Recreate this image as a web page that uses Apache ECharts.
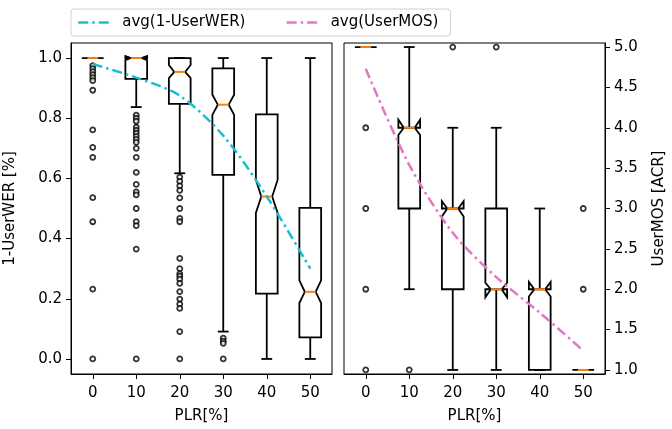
<!DOCTYPE html>
<html>
<head>
<meta charset="utf-8">
<script src="https://cdn.jsdelivr.net/npm/echarts@6/dist/echarts.min.js"></script>
<style>
  html, body { margin: 0; padding: 0; background: #fff; }
  #chart { width: 672px; height: 429px; }
</style>
</head>
<body>
<div id="chart"></div>
<script>
// Packet loss rate levels (x categories)
const plrLevels = ['0', '10', '20', '30', '40', '50'];

// 1-UserWER box statistics per PLR level
const werWhiskerLow  = [1.0, 0.837, 0.617, 0.091, 0.0,   0.0];
const werQ1          = [1.0, 0.931, 0.848, 0.612, 0.217, 0.072];
const werMedian      = [1.0, 1.0,   0.954, 0.845, 0.540, 0.223];
const werQ3          = [1.0, 1.0,   1.0,   0.966, 0.8125, 0.502];
const werWhiskerHigh = [1.0, 1.0,   1.0,   1.0,   1.0,   1.0];
const werNotchLow    = [1.0, 0.993, 0.933, 0.811, 0.485, 0.186];
const werNotchHigh   = [1.0, 1.007, 0.977, 0.878, 0.595, 0.261];
const werAverage     = [0.98, 0.935, 0.875, 0.742, 0.540, 0.300];

// 1-UserWER outliers, one list per PLR level
const werOutliers = [
  [0.975, 0.965, 0.955, 0.945, 0.935, 0.925, 0.893, 0.761, 0.703, 0.67, 0.536, 0.456, 0.232, 0.0],
  [0.81, 0.80, 0.79, 0.77, 0.76, 0.75, 0.74, 0.73, 0.72, 0.70, 0.67, 0.62, 0.58, 0.555, 0.545, 0.50, 0.456, 0.443, 0.365, 0.0],
  [0.604, 0.59, 0.575, 0.56, 0.535, 0.50, 0.467, 0.456, 0.334, 0.30, 0.283, 0.275, 0.265, 0.251, 0.224, 0.199, 0.182, 0.168, 0.091, 0.0],
  [0.069, 0.059, 0.052, 0.0],
  [],
  []
];

// UserMOS box statistics per PLR level
const mosWhiskerLow  = [5, 2, 1, 1, 1, 1];
const mosQ1          = [5, 3, 2, 2, 1, 1];
const mosMedian      = [5, 4, 3, 2, 2, 1];
const mosQ3          = [5, 4, 3, 3, 2, 1];
const mosWhiskerHigh = [5, 5, 4, 4, 3, 1];
const mosNotchLow    = [5, 3.91, 2.90, 1.90, 1.91, 1];
const mosNotchHigh   = [5, 4.10, 3.09, 2.08, 2.09, 1];
const mosAverage     = [4.73, 3.54, 2.70, 2.15, 1.71, 1.24];

// UserMOS outliers, one list per PLR level
const mosOutliers = [
  [4, 3, 2, 1],
  [1],
  [5],
  [5],
  [],
  [3, 2]
];

// Tick labels
const werTicks = [0.0, 0.2, 0.4, 0.6, 0.8, 1.0];
const mosTicks = [1.0, 1.5, 2.0, 2.5, 3.0, 3.5, 4.0, 4.5, 5.0];

const FONT = 'DejaVu Sans';
const FS = 15;
const DASH_DOT = [10, 4, 2.5, 4];

function boxRows(wl, q1, md, q3, wh, nl, nh) {
  return plrLevels.map((_, i) => [i, wl[i], q1[i], md[i], q3[i], wh[i], nl[i], nh[i]]);
}
function outlierPoints(lists) {
  const pts = [];
  lists.forEach((vals, i) => vals.forEach(v => pts.push([i, v])));
  return pts;
}

// Notched box: body with notch, whiskers with caps, median bar
function renderNotchedBox(params, api) {
  const i = api.value(0);
  const wl = api.value(1), q1 = api.value(2), md = api.value(3);
  const q3 = api.value(4), wh = api.value(5), nl = api.value(6), nh = api.value(7);
  const y = v => api.coord([i, v])[1];
  const cx = api.coord([i, md])[0];
  const w = api.size([1, 0])[0] * 0.5;
  const L = cx - w / 2, R = cx + w / 2, qL = cx - w / 4, qR = cx + w / 4;
  const stroke = { stroke: '#000', lineWidth: 1.8, fill: 'none', lineJoin: 'miter' };
  return {
    type: 'group',
    children: [
      { type: 'polyline', shape: { points: [[cx, y(q1)], [cx, y(wl)]] }, style: stroke },
      { type: 'polyline', shape: { points: [[qL, y(wl)], [qR, y(wl)]] }, style: stroke },
      { type: 'polyline', shape: { points: [[cx, y(q3)], [cx, y(wh)]] }, style: stroke },
      { type: 'polyline', shape: { points: [[qL, y(wh)], [qR, y(wh)]] }, style: stroke },
      {
        type: 'polygon',
        shape: {
          points: [
            [L, y(q1)], [R, y(q1)], [R, y(nl)], [qR, y(md)], [R, y(nh)],
            [R, y(q3)], [L, y(q3)], [L, y(nh)], [qL, y(md)], [L, y(nl)]
          ]
        },
        style: stroke
      },
      { type: 'line', shape: { x1: qL, y1: y(md), x2: qR, y2: y(md) },
        style: { stroke: '#ff7f0e', lineWidth: 2 } }
    ]
  };
}

function xAxisFor(gridIndex) {
  return {
    type: 'category', gridIndex, data: plrLevels, boundaryGap: true,
    name: 'PLR[%]', nameLocation: 'middle', nameGap: 35,
    nameTextStyle: { fontFamily: FONT, fontSize: FS, color: '#000' },
    axisLine: { show: true, onZero: false, lineStyle: { color: '#000', width: 1 } },
    axisTick: { show: true, alignWithLabel: true, length: 5, lineStyle: { color: '#000' } },
    axisLabel: { fontFamily: FONT, fontSize: FS, color: '#000', margin: 12 },
    splitLine: { show: false }
  };
}

const outlierStyle = { color: '#fff', borderColor: '#000', borderWidth: 1.8 };

const chart = echarts.init(document.getElementById('chart'), null, { renderer: 'canvas' });

chart.setOption({
  animation: false,
  backgroundColor: '#fff',
  textStyle: { fontFamily: FONT },
  legend: {
    left: 71, top: 9,
    data: ['avg(1-UserWER)', 'avg(UserMOS)'],
    itemWidth: 32, itemHeight: 14, itemGap: 40,
    padding: [6, 12, 6, 6],
    borderColor: '#d0d0d0', borderWidth: 1, borderRadius: 3,
    itemStyle: { opacity: 0 },
    lineStyle: { width: 2.5, type: DASH_DOT },
    textStyle: { fontFamily: FONT, fontSize: FS, color: '#000', padding: [0, 0, 0, 7] }
  },
  grid: [
    { left: 71, top: 43, width: 261, height: 335, show: true, borderColor: '#000', borderWidth: 1 },
    { left: 344, top: 43, width: 261, height: 335, show: true, borderColor: '#000', borderWidth: 1 }
  ],
  xAxis: [xAxisFor(0), xAxisFor(1)],
  yAxis: [
    {
      type: 'value', gridIndex: 0, min: -0.05, max: 1.05,
      name: '1-UserWER [%]', nameLocation: 'middle', nameGap: 53, nameRotate: 90,
      nameTextStyle: { fontFamily: FONT, fontSize: FS, color: '#000' },
      axisLine: { show: true, onZero: false, lineStyle: { color: '#000', width: 1 } },
      axisTick: { show: true, length: 5, customValues: werTicks, lineStyle: { color: '#000' } },
      axisLabel: { fontFamily: FONT, fontSize: FS, color: '#000', margin: 9,
        customValues: werTicks, formatter: v => Number(v).toFixed(1) },
      splitLine: { show: false }
    },
    {
      type: 'value', gridIndex: 1, position: 'right', min: 0.95, max: 5.05,
      name: 'UserMOS [ACR]', nameLocation: 'middle', nameGap: 47, nameRotate: 90,
      nameTextStyle: { fontFamily: FONT, fontSize: FS, color: '#000' },
      axisLine: { show: true, onZero: false, lineStyle: { color: '#000', width: 1 } },
      axisTick: { show: true, length: 5, customValues: mosTicks, lineStyle: { color: '#000' } },
      axisLabel: { fontFamily: FONT, fontSize: FS, color: '#000', margin: 9,
        customValues: mosTicks, formatter: v => Number(v).toFixed(1) },
      splitLine: { show: false }
    }
  ],
  series: [
    {
      type: 'custom', xAxisIndex: 0, yAxisIndex: 0,
      data: boxRows(werWhiskerLow, werQ1, werMedian, werQ3, werWhiskerHigh, werNotchLow, werNotchHigh),
      encode: { x: 0, y: [1, 2, 3, 4, 5, 6, 7] },
      renderItem: renderNotchedBox, silent: true
    },
    {
      type: 'scatter', xAxisIndex: 0, yAxisIndex: 0,
      data: outlierPoints(werOutliers), symbol: 'circle', symbolSize: 5,
      itemStyle: outlierStyle, silent: true
    },
    {
      type: 'custom', xAxisIndex: 1, yAxisIndex: 1,
      data: boxRows(mosWhiskerLow, mosQ1, mosMedian, mosQ3, mosWhiskerHigh, mosNotchLow, mosNotchHigh),
      encode: { x: 0, y: [1, 2, 3, 4, 5, 6, 7] },
      renderItem: renderNotchedBox, silent: true
    },
    {
      type: 'scatter', xAxisIndex: 1, yAxisIndex: 1,
      data: outlierPoints(mosOutliers), symbol: 'circle', symbolSize: 5,
      itemStyle: outlierStyle, silent: true
    },
    {
      name: 'avg(1-UserWER)', type: 'line', xAxisIndex: 0, yAxisIndex: 0,
      data: werAverage, symbol: 'none', smooth: 0.3,
      lineStyle: { color: '#17becf', width: 2.5, type: DASH_DOT },
      itemStyle: { color: '#17becf' }
    },
    {
      name: 'avg(UserMOS)', type: 'line', xAxisIndex: 1, yAxisIndex: 1,
      data: mosAverage, symbol: 'none', smooth: 0.3,
      lineStyle: { color: '#e377c2', width: 2.5, type: DASH_DOT },
      itemStyle: { color: '#e377c2' }
    }
  ]
});
</script>
</body>
</html>
